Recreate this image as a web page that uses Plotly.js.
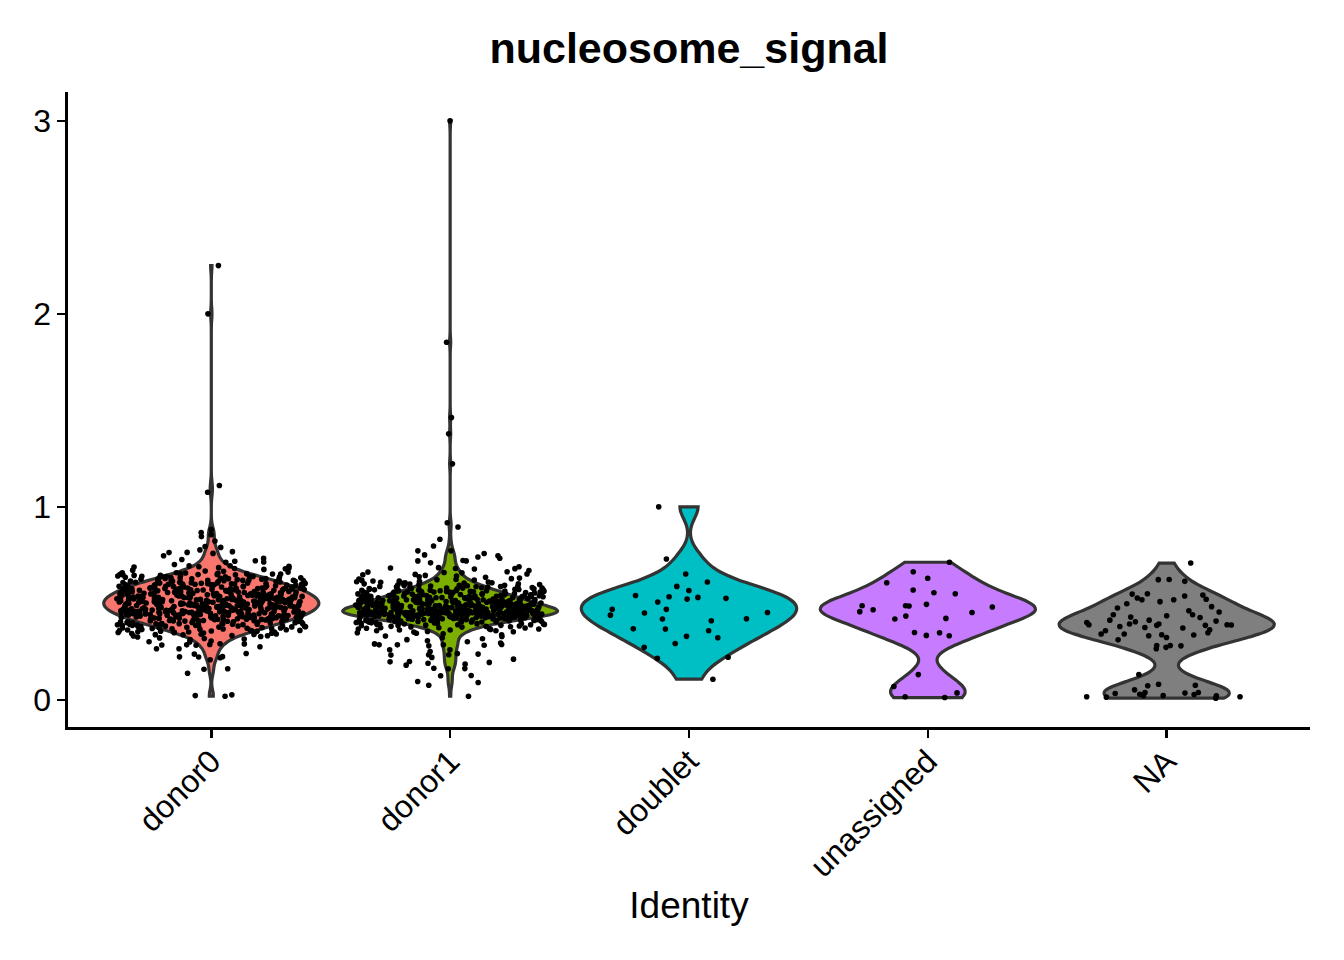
<!DOCTYPE html>
<html>
<head>
<meta charset="utf-8">
<script src="https://cdn.plot.ly/plotly-3.0.1.min.js"></script>
<style>
  html, body { margin: 0; padding: 0; background: #fff; }
</style>
</head>
<body>
<div id="chart" style="width:1344px;height:960px;"></div>
<script>
// identities on the x axis
let categories = ['donor0', 'donor1', 'doublet', 'unassigned', 'NA'];

// nucleosome_signal per cell
let donor0 = [
  0.019, 0.022, 0.026, 0.138, 0.159, 0.161, 0.208, 0.218, 0.222, 0.223, 0.224, 0.237, 0.240, 0.265, 0.265,
  0.275, 0.283, 0.284, 0.285, 0.287, 0.290, 0.291, 0.300, 0.301, 0.305,
  0.312, 0.315, 0.318, 0.321, 0.326, 0.328, 0.331, 0.333, 0.337, 0.339, 0.340, 0.344, 0.346, 0.349,
  0.351, 0.352, 0.356, 0.357, 0.359, 0.360, 0.363, 0.364, 0.367, 0.369,
  0.371, 0.372, 0.374, 0.375, 0.378, 0.379, 0.380, 0.382, 0.383, 0.385, 0.386, 0.388, 0.389,
  0.391, 0.392, 0.393, 0.395, 0.396, 0.398, 0.399, 0.400, 0.401, 0.403, 0.404, 0.405, 0.407, 0.408, 0.409,
  0.410, 0.411, 0.412, 0.414, 0.415, 0.416, 0.417, 0.418, 0.419,
  0.420, 0.421, 0.423, 0.424, 0.425, 0.426, 0.427, 0.428, 0.429,
  0.430, 0.431, 0.431, 0.433, 0.434, 0.436, 0.436, 0.437, 0.439, 0.439,
  0.440, 0.441, 0.442, 0.443, 0.445, 0.445, 0.446, 0.447, 0.448, 0.449,
  0.450, 0.451, 0.452, 0.453, 0.454, 0.455, 0.456, 0.457, 0.458, 0.458, 0.459,
  0.460, 0.461, 0.461, 0.462, 0.464, 0.465, 0.466, 0.467, 0.468, 0.469, 0.469,
  0.470, 0.471, 0.472, 0.472, 0.473, 0.474, 0.475, 0.476, 0.477, 0.478, 0.479, 0.479,
  0.480, 0.480, 0.481, 0.482, 0.483, 0.484, 0.485, 0.486, 0.487, 0.488, 0.489, 0.489,
  0.490, 0.491, 0.492, 0.492, 0.493, 0.494, 0.495, 0.496, 0.497, 0.498, 0.498, 0.499,
  0.500, 0.501, 0.502, 0.503, 0.503, 0.504, 0.505, 0.506, 0.507, 0.508, 0.509, 0.509,
  0.510, 0.511, 0.511, 0.512, 0.513, 0.514, 0.515, 0.516, 0.517, 0.518, 0.519, 0.519,
  0.520, 0.521, 0.522, 0.523, 0.524, 0.524, 0.525, 0.526, 0.527, 0.528, 0.529, 0.529,
  0.530, 0.530, 0.531, 0.532, 0.533, 0.534, 0.535, 0.536, 0.537, 0.538, 0.538, 0.539,
  0.540, 0.541, 0.542, 0.543, 0.544, 0.545, 0.546, 0.547, 0.548, 0.548, 0.549,
  0.550, 0.551, 0.552, 0.553, 0.554, 0.555, 0.556, 0.557, 0.558, 0.559, 0.559,
  0.560, 0.561, 0.562, 0.563, 0.565, 0.566, 0.567, 0.568, 0.569, 0.569,
  0.570, 0.571, 0.572, 0.574, 0.575, 0.576, 0.577, 0.578, 0.579, 0.579,
  0.580, 0.581, 0.583, 0.584, 0.585, 0.586, 0.587, 0.588, 0.589,
  0.590, 0.591, 0.592, 0.594, 0.595, 0.596, 0.597, 0.598, 0.599,
  0.600, 0.601, 0.603, 0.604, 0.605, 0.607, 0.608, 0.609,
  0.610, 0.612, 0.613, 0.615, 0.616, 0.618, 0.619, 0.620, 0.621, 0.623, 0.625, 0.626, 0.628, 0.629,
  0.630, 0.632, 0.634, 0.635, 0.637, 0.639, 0.640, 0.642, 0.645, 0.647, 0.649,
  0.650, 0.651, 0.652, 0.654, 0.655, 0.657, 0.659, 0.668, 0.672, 0.676, 0.679, 0.681, 0.683, 0.685,
  0.688, 0.690, 0.692, 0.694, 0.695, 0.701, 0.713, 0.714, 0.718, 0.721, 0.727, 0.733, 0.747,
  0.759, 0.763, 0.764, 0.768, 0.777, 0.790, 0.794, 0.823, 0.846, 0.856, 0.867, 0.882,
  1.076, 1.111, 2.000, 2.250
];

// second pass over the dense middle of donor0
let donor0Core = [
  0.332, 0.338, 0.341, 0.345, 0.348, 0.350, 0.353, 0.355, 0.358, 0.361, 0.362, 0.366, 0.368,
  0.370, 0.373, 0.376, 0.377, 0.379, 0.381, 0.382, 0.384, 0.386, 0.387, 0.389,
  0.390, 0.392, 0.394, 0.395, 0.397, 0.399, 0.400, 0.402, 0.403, 0.405, 0.406, 0.408, 0.409,
  0.410, 0.411, 0.413, 0.414, 0.415, 0.417, 0.418, 0.419, 0.420, 0.422, 0.423, 0.424, 0.426, 0.427, 0.428, 0.429,
  0.430, 0.431, 0.432, 0.434, 0.435, 0.436, 0.437, 0.438, 0.439, 0.440, 0.441, 0.442, 0.444, 0.444, 0.446, 0.447, 0.448, 0.449,
  0.450, 0.451, 0.452, 0.453, 0.454, 0.455, 0.456, 0.457, 0.458, 0.459,
  0.460, 0.461, 0.462, 0.463, 0.464, 0.465, 0.466, 0.467, 0.468, 0.469,
  0.470, 0.471, 0.472, 0.473, 0.474, 0.475, 0.476, 0.477, 0.478, 0.479,
  0.480, 0.481, 0.482, 0.483, 0.484, 0.485, 0.486, 0.487, 0.488, 0.489,
  0.490, 0.491, 0.492, 0.493, 0.494, 0.495, 0.496, 0.497, 0.498, 0.499,
  0.500, 0.501, 0.502, 0.503, 0.504, 0.505, 0.506, 0.507, 0.508, 0.509,
  0.510, 0.511, 0.512, 0.513, 0.514, 0.515, 0.516, 0.517, 0.518, 0.519,
  0.520, 0.521, 0.522, 0.523, 0.524, 0.525, 0.526, 0.527, 0.528, 0.529,
  0.530, 0.531, 0.532, 0.533, 0.534, 0.535, 0.536, 0.537, 0.538, 0.539,
  0.540, 0.541, 0.543, 0.544, 0.545, 0.546, 0.547, 0.548, 0.549,
  0.550, 0.551, 0.552, 0.554, 0.555, 0.556, 0.557, 0.558, 0.559,
  0.560, 0.561, 0.563, 0.564, 0.565, 0.566, 0.567, 0.568, 0.569,
  0.570, 0.572, 0.573, 0.574, 0.576, 0.577, 0.578, 0.579,
  0.580, 0.581, 0.582, 0.584, 0.585, 0.587, 0.588, 0.589,
  0.590, 0.592, 0.593, 0.595, 0.596, 0.598, 0.599,
  0.600, 0.602, 0.603, 0.605, 0.606, 0.608, 0.609,
  0.611, 0.612, 0.614, 0.616, 0.617, 0.619, 0.621, 0.623, 0.625, 0.627, 0.629,
  0.631, 0.633, 0.636, 0.638, 0.639, 0.641, 0.644, 0.646, 0.648, 0.652, 0.656, 0.658, 0.662, 0.666
];

let donor1 = [
  0.019, 0.076, 0.090, 0.095, 0.125, 0.126, 0.161, 0.162, 0.164, 0.180, 0.185, 0.190, 0.194, 0.197, 0.199,
  0.211, 0.220, 0.232, 0.234, 0.234, 0.237, 0.240, 0.250, 0.260, 0.260, 0.280, 0.283, 0.285, 0.285, 0.285,
  0.287, 0.290, 0.295,
  0.301, 0.306, 0.312, 0.317, 0.322, 0.328, 0.331, 0.337, 0.342, 0.345, 0.348,
  0.351, 0.354, 0.358, 0.362, 0.365, 0.367, 0.369, 0.372, 0.374, 0.377, 0.379,
  0.381, 0.383, 0.385, 0.387, 0.389, 0.390, 0.392, 0.393, 0.395, 0.396, 0.398,
  0.400, 0.401, 0.403, 0.404, 0.405, 0.406, 0.408, 0.409,
  0.410, 0.411, 0.412, 0.413, 0.414, 0.415, 0.416, 0.417, 0.418, 0.419,
  0.420, 0.420, 0.421, 0.422, 0.423, 0.424, 0.425, 0.426, 0.427, 0.427, 0.428, 0.429,
  0.430, 0.430, 0.431, 0.432, 0.433, 0.434, 0.434, 0.435, 0.436, 0.437, 0.437, 0.438, 0.439, 0.439,
  0.440, 0.440, 0.441, 0.442, 0.442, 0.443, 0.444, 0.444, 0.445, 0.446, 0.447, 0.447, 0.448, 0.449, 0.449,
  0.450, 0.450, 0.451, 0.452, 0.452, 0.453, 0.453, 0.454, 0.455, 0.455, 0.456, 0.457, 0.457, 0.458, 0.459, 0.459,
  0.460, 0.460, 0.461, 0.462, 0.462, 0.463, 0.464, 0.464, 0.465, 0.466, 0.466, 0.467, 0.468, 0.468, 0.469, 0.469,
  0.470, 0.471, 0.471, 0.472, 0.473, 0.473, 0.474, 0.475, 0.476, 0.476, 0.477, 0.478, 0.478, 0.479, 0.479,
  0.480, 0.481, 0.481, 0.482, 0.483, 0.484, 0.484, 0.485, 0.486, 0.487, 0.487, 0.488, 0.489, 0.489, 0.489,
  0.490, 0.491, 0.492, 0.492, 0.493, 0.494, 0.495, 0.495, 0.496, 0.497, 0.498, 0.498, 0.499, 0.499,
  0.500, 0.501, 0.502, 0.503, 0.504, 0.504, 0.505, 0.506, 0.507, 0.508, 0.509, 0.509, 0.509,
  0.510, 0.511, 0.512, 0.513, 0.514, 0.515, 0.516, 0.517, 0.518, 0.519, 0.519, 0.519,
  0.520, 0.521, 0.523, 0.524, 0.525, 0.526, 0.527, 0.528, 0.529, 0.529, 0.529,
  0.530, 0.531, 0.533, 0.534, 0.535, 0.536, 0.537, 0.538, 0.539, 0.539,
  0.540, 0.541, 0.542, 0.544, 0.545, 0.546, 0.547, 0.548, 0.549, 0.549,
  0.550, 0.551, 0.553, 0.554, 0.556, 0.557, 0.558, 0.559, 0.559,
  0.560, 0.562, 0.563, 0.565, 0.566, 0.567, 0.568, 0.569,
  0.570, 0.572, 0.573, 0.575, 0.577, 0.578, 0.579,
  0.580, 0.582, 0.584, 0.586, 0.587, 0.589, 0.590, 0.592, 0.594, 0.596, 0.598,
  0.600, 0.602, 0.605, 0.607, 0.609, 0.611, 0.614, 0.616, 0.619, 0.621, 0.624, 0.626, 0.628,
  0.631, 0.635, 0.638, 0.642, 0.645, 0.648,
  0.650, 0.652, 0.658, 0.660, 0.662, 0.664, 0.670, 0.678, 0.680, 0.681, 0.683, 0.685, 0.690,
  0.710, 0.720, 0.720, 0.722, 0.734, 0.740, 0.747, 0.751, 0.758, 0.772, 0.772, 0.797, 0.832,
  0.896, 0.918, 1.223, 1.379, 1.463, 1.853, 3.000
];

// second pass over the dense middle of donor1
let donor1Core = [
  0.353, 0.358, 0.362, 0.367, 0.371, 0.374, 0.378, 0.381, 0.384, 0.386, 0.389, 0.391, 0.393, 0.395, 0.397, 0.399,
  0.400, 0.402, 0.403, 0.405, 0.406, 0.407, 0.409,
  0.410, 0.411, 0.412, 0.413, 0.414, 0.415, 0.416, 0.417, 0.418,
  0.420, 0.421, 0.421, 0.422, 0.423, 0.424, 0.425, 0.426, 0.427, 0.428, 0.429,
  0.430, 0.431, 0.431, 0.432, 0.433, 0.434, 0.435, 0.435, 0.436, 0.437, 0.438, 0.439, 0.439,
  0.440, 0.441, 0.441, 0.442, 0.443, 0.443, 0.444, 0.445, 0.445, 0.446, 0.447, 0.447, 0.448, 0.449, 0.449,
  0.441, 0.443, 0.444, 0.445, 0.446, 0.447, 0.448, 0.448, 0.449,
  0.450, 0.450, 0.451, 0.451, 0.452, 0.453, 0.453, 0.454, 0.454, 0.455, 0.456, 0.456, 0.457, 0.458, 0.458, 0.459,
  0.450, 0.450, 0.451, 0.452, 0.452, 0.453, 0.453, 0.454, 0.455, 0.455, 0.456, 0.456, 0.457, 0.458, 0.459,
  0.460, 0.460, 0.461, 0.461, 0.462, 0.463, 0.463, 0.464, 0.465, 0.465, 0.466, 0.467, 0.467, 0.468, 0.469, 0.469,
  0.470, 0.470, 0.471, 0.472, 0.472, 0.473, 0.474, 0.474, 0.475, 0.476, 0.477, 0.477, 0.478, 0.479, 0.479,
  0.480, 0.481, 0.481, 0.482, 0.483, 0.484, 0.484, 0.485, 0.486, 0.487, 0.487, 0.488, 0.489, 0.489,
  0.490, 0.491, 0.492, 0.492, 0.493, 0.494, 0.495, 0.495, 0.496, 0.497, 0.498, 0.499, 0.499,
  0.500, 0.501, 0.502, 0.503, 0.504, 0.505, 0.505, 0.506, 0.507, 0.508, 0.509, 0.509,
  0.510, 0.511, 0.512, 0.513, 0.514, 0.515, 0.516, 0.517, 0.518, 0.519, 0.519,
  0.520, 0.521, 0.522, 0.523, 0.525, 0.526, 0.527, 0.528, 0.529, 0.529,
  0.530, 0.531, 0.532, 0.534, 0.535, 0.536, 0.537, 0.538, 0.539,
  0.540, 0.541, 0.543, 0.544, 0.545, 0.547, 0.548, 0.549,
  0.550, 0.552, 0.553, 0.555, 0.556, 0.558, 0.559,
  0.561, 0.562, 0.564, 0.566, 0.568, 0.569,
  0.571, 0.573, 0.575, 0.577, 0.579, 0.581, 0.584, 0.586, 0.588,
  0.591, 0.594, 0.597, 0.601, 0.604, 0.607, 0.612, 0.616, 0.623
];

let doublet = [
  0.107, 0.215, 0.221, 0.272, 0.292, 0.322, 0.329, 0.358, 0.367, 0.368, 0.410, 0.419, 0.420, 0.439, 0.450,
  0.453, 0.469, 0.469, 0.507, 0.522, 0.526, 0.531, 0.534, 0.541, 0.567, 0.588, 0.611, 0.652, 0.730, 1.000
];

let unassigned = [
  0.012, 0.016, 0.036, 0.069, 0.131, 0.332, 0.334, 0.348, 0.349, 0.419, 0.422, 0.434, 0.453, 0.457,
  0.467, 0.481, 0.486, 0.488, 0.488, 0.495, 0.550, 0.555, 0.569, 0.607, 0.630, 0.664, 0.713
];

let naGroup = [
  0.009, 0.014, 0.016, 0.016, 0.021, 0.021, 0.022, 0.028, 0.029, 0.033, 0.035, 0.038, 0.038, 0.052,
  0.073, 0.076, 0.081, 0.131, 0.265, 0.272, 0.280, 0.282, 0.282, 0.311, 0.323, 0.332, 0.336, 0.337,
  0.341, 0.341, 0.348, 0.358, 0.363, 0.372, 0.375, 0.380, 0.386, 0.386, 0.388, 0.389, 0.389, 0.393,
  0.393, 0.401, 0.405, 0.408, 0.413, 0.413, 0.427, 0.429, 0.436, 0.441, 0.441, 0.455, 0.462, 0.476,
  0.483, 0.498, 0.509, 0.519, 0.519, 0.521, 0.528, 0.538, 0.543, 0.548, 0.550, 0.614, 0.623, 0.624,
  0.709
];

let groupValues = [donor0.concat(donor0Core), donor1.concat(donor1Core), doublet, unassigned, naGroup];
let groupColors = ['#F8766D', '#7CAE00', '#00BFC4', '#C77CFF', '#7F7F7F'];
let bandwidths = [0.03, 0.026, 0.06, 0.062, 0.056];

let fontFamily = '"Liberation Sans", Arial, Helvetica, sans-serif';

let data = [];
for (let i = 0; i < categories.length; i++) {
  data.push({
    type: 'violin',
    name: categories[i],
    x: groupValues[i].map(function () { return categories[i]; }),
    y: groupValues[i],
    fillcolor: groupColors[i],
    line: {color: '#333333', width: 3.2},
    opacity: 1,
    width: 0.9,
    scalemode: 'width',
    spanmode: 'hard',
    bandwidth: bandwidths[i],
    points: 'all',
    pointpos: 0,
    jitter: 0.88,
    marker: {color: '#000000', size: 5.6, line: {width: 0}},
    box: {visible: false},
    meanline: {visible: false},
    hoveron: 'points',
    showlegend: false
  });
}

let layout = {
  width: 1344,
  height: 960,
  margin: {l: 68, r: 34, t: 92, b: 233},
  paper_bgcolor: '#ffffff',
  plot_bgcolor: '#ffffff',
  font: {family: fontFamily, color: '#000000'},
  title: {
    text: '<b>nucleosome_signal</b>',
    font: {size: 43, color: '#000000'},
    x: 0.5, xref: 'paper',
    y: 0.95, yref: 'container', yanchor: 'middle'
  },
  violinmode: 'overlay',
  showlegend: false,
  xaxis: {
    type: 'category',
    categoryorder: 'array',
    categoryarray: categories,
    range: [-0.6, 4.6],
    tickangle: -45,
    ticks: 'outside', ticklen: 8, tickwidth: 2.6, tickcolor: '#000000',
    ticklabelstandoff: -8,
    showline: true, linewidth: 2.6, linecolor: '#000000',
    showgrid: false, zeroline: false,
    tickfont: {size: 32},
    title: {text: 'Identity', font: {size: 37}, standoff: 9}
  },
  yaxis: {
    range: [-0.1406, 3.1496],
    tickvals: [0, 1, 2, 3],
    ticks: 'outside', ticklen: 8, tickwidth: 2.6, tickcolor: '#000000',
    showline: true, linewidth: 2.6, linecolor: '#000000',
    showgrid: false, zeroline: false,
    tickfont: {size: 32}
  }
};

Plotly.newPlot('chart', data, layout, {staticPlot: true});
</script>
</body>
</html>
